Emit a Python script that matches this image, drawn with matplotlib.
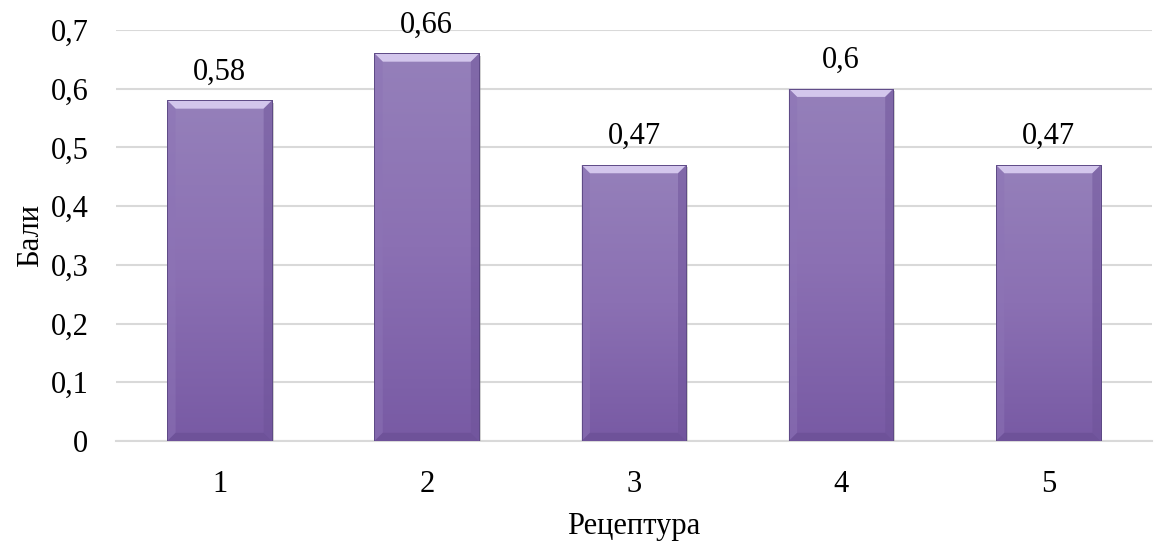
import numpy as np
import matplotlib
matplotlib.use("Agg")
import matplotlib.pyplot as plt
from matplotlib.patches import Polygon
from matplotlib.colors import LinearSegmentedColormap

categories = ["1", "2", "3", "4", "5"]
values = [0.58, 0.66, 0.47, 0.6, 0.47]
y_ticks = [0, 0.1, 0.2, 0.3, 0.4, 0.5, 0.6, 0.7]
y_tick_labels = ["0", "0,1", "0,2", "0,3", "0,4", "0,5", "0,6", "0,7"]
x_title = "Рецептура"
y_title = "Бали"

plt.rcParams["font.family"] = ["Liberation Serif", "DejaVu Serif"]
FS = 22

fig = plt.figure(figsize=(11.57, 5.43), dpi=100)
ax = fig.add_axes([0.1003, 0.1878, 0.8953, 0.757])

x = np.arange(len(categories))
width = 0.505
bars = ax.bar(x, values, width=width, color="#8a6fb2", edgecolor="#5e4a86",
              linewidth=0.6, zorder=3)

ax.set_xlim(-0.5, len(categories) - 0.5)
ax.set_ylim(0, 0.7)

# vertical gradient on each bar
grad_cmap = LinearSegmentedColormap.from_list("bar", ["#785aa4", "#8b70b3", "#9580ba"])
grad = np.linspace(0, 1, 256).reshape(-1, 1)
for b in bars:
    x0, w, h = b.get_x(), b.get_width(), b.get_height()
    im = ax.imshow(grad, cmap=grad_cmap, origin="lower", aspect="auto",
                   extent=[x0, x0 + w, 0, h], zorder=3.1)
    im.set_clip_path(b)

    # bevel: highlight along the top, soft edges on the sides and bottom
    bx = 0.04
    by = 0.014
    top = Polygon([[x0, h], [x0 + w, h], [x0 + w - bx, h - by], [x0 + bx, h - by]],
                  closed=True, facecolor="#d3c6ec", edgecolor="none", zorder=3.2)
    left = Polygon([[x0, h], [x0 + bx, h - by], [x0 + bx, by], [x0, 0]],
                   closed=True, facecolor="#8d74b6", edgecolor="none", alpha=0.5, zorder=3.2)
    right = Polygon([[x0 + w, h], [x0 + w - bx, h - by], [x0 + w - bx, by], [x0 + w, 0]],
                    closed=True, facecolor="#6e5399", edgecolor="none", alpha=0.5, zorder=3.2)
    bottom = Polygon([[x0, 0], [x0 + w, 0], [x0 + w - bx, by], [x0 + bx, by]],
                     closed=True, facecolor="#6a4f95", edgecolor="none", alpha=0.7, zorder=3.2)
    for p in (top, left, right, bottom):
        ax.add_patch(p)
    # outline and drop shadow
    ax.add_patch(plt.Rectangle((x0, 0), w, h, fill=False, edgecolor="#5e4a86",
                               linewidth=0.7, zorder=3.3))
    ax.add_patch(plt.Rectangle((x0 + 0.008, -0.004), w, h, facecolor="#9a9a9a",
                               edgecolor="none", alpha=0.45, zorder=2.9))

for xi, v in zip(x, values):
    ax.annotate(f"{v:g}".replace(".", ","), xy=(xi, v), xytext=(0, 15),
                textcoords="offset points", ha="center", va="baseline",
                fontsize=FS, color="#000000", zorder=5)

ax.set_xticks(x)
ax.set_xticklabels(categories, fontsize=FS)
ax.set_yticks(y_ticks)
ax.set_yticklabels(y_tick_labels, fontsize=FS)
ax.tick_params(axis="both", length=0)
ax.tick_params(axis="y", pad=20)
ax.tick_params(axis="x", pad=21)

ax.grid(axis="y", color="#d9d9d9", linewidth=1.5, zorder=0)
ax.set_axisbelow(True)
for side in ("top", "right", "left"):
    ax.spines[side].set_visible(False)
ax.spines["bottom"].set_color("#d9d9d9")
ax.spines["bottom"].set_linewidth(1.5)

ax.set_xlabel(x_title, fontsize=FS, labelpad=9)
ax.set_ylabel(y_title, fontsize=FS, labelpad=4)

fig.savefig("out.png", dpi=100)
